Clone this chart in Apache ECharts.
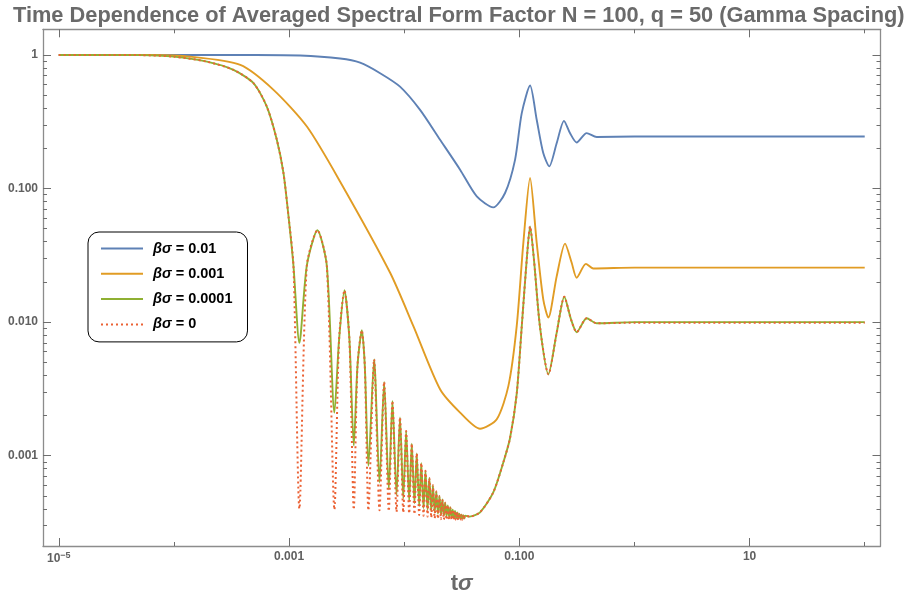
<!DOCTYPE html>
<html><head><meta charset="utf-8">
<script src="https://cdn.jsdelivr.net/npm/echarts@6/dist/echarts.min.js"></script>
<style>html,body{margin:0;padding:0;background:#fff}#c{width:917px;height:600px}</style>
</head><body><div id="c"></div>
<script>
// ---- data (t·σ, averaged spectral form factor) ----
const seriesNames = ['βσ = 0.01', 'βσ = 0.001', 'βσ = 0.0001', 'βσ = 0'];
const seriesColors = ['#5E81B5', '#E19C24', '#8FB032', '#EB6235'];

const blueT = [1e-5, 4.59e-4, 1.247e-3, 2.78e-3, 4.14e-3, 6.18e-3, 9.2e-3, 0.01374, 0.0205, 0.0306, 0.0427, 0.0594, 0.0752, 0.0918, 0.105, 0.124, 0.1416, 0.1614, 0.182, 0.2113, 0.2443, 0.2754, 0.3148, 0.3846, 0.47, 1, 100];
const blueY = [1, 0.998, 0.99, 0.94, 0.875, 0.73, 0.579, 0.388, 0.232, 0.1384, 0.0873, 0.0723, 0.0926, 0.164, 0.367, 0.59, 0.327, 0.1844, 0.1466, 0.219, 0.321, 0.26, 0.221, 0.26, 0.243, 0.245, 0.245];

const orangeT = [1e-5, 6.22e-5, 1.384e-4, 3.77e-4, 7.33e-4, 1.429e-3, 2.78e-3, 7.55e-3, 0.01202, 0.0205, 0.0306, 0.0456, 0.0637, 0.0804, 0.0949, 0.1084, 0.124, 0.1416, 0.1614, 0.1786, 0.2113, 0.2495, 0.285, 0.3148, 0.379, 0.4385, 1, 100];
const orangeY = [1, 0.998, 0.971, 0.842, 0.548, 0.291, 0.1125, 0.0234, 9.33e-3, 3.14e-3, 2.10e-3, 1.59e-3, 1.875e-3, 3.33e-3, 9.33e-3, 0.0392, 0.12, 0.0392, 0.0148, 0.0108, 0.0221, 0.0387, 0.0278, 0.0215, 0.0273, 0.0252, 0.0256, 0.0256];

const greenT = [1e-5, 2.29e-5, 5.1e-5, 9.92e-5, 1.934e-4, 3.29e-4, 4.91e-4, 6.41e-4, 7.83e-4, 8.94e-4, 9.88e-4, 1.092e-3,
  1.23e-3, 1.427e-3, 1.764e-3, 2.128e-3, 2.478e-3, 2.72e-3, 3.03e-3, 3.345e-3, 3.65e-3, 3.93e-3, 4.285e-3, 4.55e-3, 4.89e-3,
  5.48e-3, 6.1e-3, 6.7e-3, 7.35e-3, 7.91e-3, 8.58e-3, 9.2e-3, 9.82e-3, 0.0104, 0.01105, 0.01164, 0.01228, 0.01285, 0.0135,
  0.01408, 0.01473, 0.01531, 0.01596, 0.01654, 0.01719, 0.01777, 0.01842, 0.01901, 0.01965, 0.02024, 0.02088, 0.02147,
  0.02211, 0.0227, 0.02334, 0.02393, 0.02457, 0.02516, 0.0258, 0.0264, 0.02703, 0.02763, 0.02826, 0.02886, 0.02949,
  0.03009, 0.03072, 0.03132, 0.03195, 0.03256, 0.03318, 0.03379, 0.037, 0.0456, 0.0594, 0.0726, 0.083, 0.0949, 0.105,
  0.116, 0.124, 0.134, 0.151, 0.179, 0.211, 0.246, 0.281, 0.315, 0.385, 0.47, 1, 100];
const greenY = [1, 1, 0.997, 0.971, 0.891, 0.773, 0.615, 0.411, 0.232, 0.131, 0.0626, 0.0265,
  0.0070, 0.0265, 0.0487, 0.0265, 0.0021, 0.0074, 0.0173, 0.0074, 0.00119, 0.0047, 0.0087, 0.0047, 8.4e-4,
  0.00526, 6.3e-4, 0.00356, 5.6e-4, 0.00257, 5.1e-4, 0.00193, 4.8e-4, 0.00153, 4.6e-4, 0.00123, 4.4e-4, 0.00104, 4.2e-4,
  8.8e-4, 4.05e-4, 7.7e-4, 3.95e-4, 6.8e-4, 3.85e-4, 6.0e-4, 3.75e-4, 5.4e-4, 3.68e-4, 5.0e-4, 3.62e-4, 4.7e-4,
  3.57e-4, 4.45e-4, 3.52e-4, 4.25e-4, 3.48e-4, 4.1e-4, 3.45e-4, 3.95e-4, 3.42e-4, 3.85e-4, 3.4e-4, 3.76e-4, 3.39e-4,
  3.68e-4, 3.38e-4, 3.62e-4, 3.38e-4, 3.58e-4, 3.39e-4, 3.56e-4, 3.5e-4, 3.77e-4, 5.31e-4, 8.9e-4, 1.35e-3, 2.9e-3, 9.3e-3,
  0.0294, 0.052, 0.0294, 9.3e-3, 4.07e-3, 8.3e-3, 0.0155, 0.0105, 8.4e-3, 0.0107, 9.8e-3, 0.01, 0.01];

const redT = greenT;
const redY = [1, 1, 0.997, 0.971, 0.891, 0.773, 0.615, 0.411, 0.232, 0.131, 0.0626, 0.0265,
  4.0e-4, 0.0265, 0.0487, 0.0265, 3.95e-4, 0.0074, 0.0173, 0.0074, 3.95e-4, 0.0047, 0.0087, 0.0047, 3.9e-4,
  0.00526, 3.9e-4, 0.00356, 3.85e-4, 0.00257, 3.8e-4, 0.00193, 3.75e-4, 0.00153, 3.7e-4, 0.00123, 3.65e-4, 0.00104, 3.6e-4,
  8.8e-4, 3.55e-4, 7.7e-4, 3.5e-4, 6.8e-4, 3.45e-4, 6.0e-4, 3.4e-4, 5.4e-4, 3.37e-4, 5.0e-4, 3.35e-4, 4.7e-4,
  3.33e-4, 4.45e-4, 3.32e-4, 4.25e-4, 3.31e-4, 4.1e-4, 3.3e-4, 3.95e-4, 3.3e-4, 3.85e-4, 3.3e-4, 3.76e-4, 3.3e-4,
  3.68e-4, 3.31e-4, 3.62e-4, 3.32e-4, 3.58e-4, 3.34e-4, 3.56e-4, 3.5e-4, 3.77e-4, 5.31e-4, 8.9e-4, 1.35e-3, 2.9e-3, 9.3e-3,
  0.0294, 0.052, 0.0294, 9.3e-3, 4.07e-3, 8.3e-3, 0.0155, 0.0105, 8.4e-3, 0.0107, 9.8e-3, 0.0099, 0.0099];

// ---- axes (log10 space) ----
const xTickValues = [1e-5, 1e-3, 0.1, 10];
const xTickLabels = ['10{sup|−5}', '0.001', '0.100', '10'];
const xMinorValues = [1e-4, 1e-2, 1, 100];
const yTickValues = [1, 0.1, 0.01, 0.001];
const yTickLabels = ['1', '0.100', '0.010', '0.001'];
const X_MIN = -5.137, X_MAX = 2.137, Y_MIN = -3.676, Y_MAX = 0.192;

const L = Math.log10;
const xMajor = xTickValues.map(L), xMinor = xMinorValues.map(L), yMajor = yTickValues.map(L);
const yMinor = [];
for (let n = -4; n <= 0; n++) for (let m = 2; m <= 9; m++) { const v = L(m) + n; if (v > Y_MIN && v < Y_MAX) yMinor.push(v); }
const pts = (T, Y) => T.map((t, i) => [L(t), L(Y[i])]);
const lab = (vals, labels) => v => { const i = vals.findIndex(a => Math.abs(a - v) < 1e-6); return i < 0 ? '' : labels[i]; };

const FONT = 'Liberation Sans';
const AX = '#8c8c8c', TK = '#6e6e6e', TX = '#606060';
const labStyle = { fontFamily: FONT, fontSize: 12, fontWeight: 'bold', color: TX };

function xAx(pos, vals, len, labels, showLine) {
  const o = { type: 'value', min: X_MIN, max: X_MAX, position: pos, splitLine: { show: false },
    axisLine: { show: showLine, onZero: false, lineStyle: { color: AX, width: 1.3 } },
    axisTick: { show: true, inside: true, length: len, customValues: vals, lineStyle: { color: TK, width: 1 } },
    axisLabel: { show: false } };
  if (labels) {
    o.axisLabel = Object.assign({ show: true, customValues: vals, margin: 5, formatter: lab(xMajor, xTickLabels),
      rich: { sup: { fontFamily: FONT, fontSize: 9, fontWeight: 'bold', color: TX, padding: [0, 0, 7, 0] } } }, labStyle);
    o.name = '{t|t}{s|σ}'; o.nameLocation = 'middle'; o.nameGap = 27;
    o.nameTextStyle = { rich: { t: { fontFamily: FONT, fontSize: 22, fontWeight: 'bold', color: '#6a6a6a' },
      s: { fontFamily: FONT, fontSize: 22, fontWeight: 'bold', fontStyle: 'italic', color: '#6a6a6a' } } };
  }
  return o;
}
function yAx(pos, vals, len, labels, showLine) {
  const o = { type: 'value', min: Y_MIN, max: Y_MAX, position: pos, splitLine: { show: false },
    axisLine: { show: showLine, onZero: false, lineStyle: { color: AX, width: 1.3 } },
    axisTick: { show: true, inside: true, length: len, customValues: vals, lineStyle: { color: TK, width: 1 } },
    axisLabel: { show: false } };
  if (labels) o.axisLabel = Object.assign({ show: true, customValues: vals, margin: 5, formatter: lab(yMajor, yTickLabels) }, labStyle);
  return o;
}

const data = [pts(blueT, blueY), pts(orangeT, orangeY), pts(greenT, greenY), pts(redT, redY)];
const chart = echarts.init(document.getElementById('c'), null, { renderer: 'canvas' });
chart.setOption({
  animation: false,
  backgroundColor: '#fff',
  title: { text: 'Time Dependence of Averaged Spectral Form Factor N = 100, q = 50 (Gamma Spacing)', left: 8, top: 0,
    textStyle: { fontFamily: FONT, fontSize: 21.8, fontWeight: 'bold', color: '#6a6a6a' } },
  grid: { left: 43, right: 36.5, top: 29.3, bottom: 53, containLabel: false },
  xAxis: [xAx('bottom', xMajor, 8, true, true), xAx('bottom', xMinor, 4, false, false), xAx('top', xMajor, 8, false, true), xAx('top', xMinor, 4, false, false)],
  yAxis: [yAx('left', yMajor, 8, true, true), yAx('left', yMinor, 4, false, false), yAx('right', yMajor, 8, false, true), yAx('right', yMinor, 4, false, false)],
  legend: { orient: 'vertical', left: 88, top: 232, padding: [9, 15, 10, 12], itemWidth: 42, itemHeight: 14, itemGap: 10.3,
    borderColor: '#000', borderWidth: 1, borderRadius: 11, backgroundColor: '#fff',
    itemStyle: { opacity: 0 },
    data: seriesNames,
    formatter: n => '{i|βσ}{n|' + n.slice(2) + '}',
    textStyle: { padding: [0, 0, 0, 5], rich: {
      i: { fontFamily: FONT, fontSize: 14.5, lineHeight: 14, fontWeight: 'bold', fontStyle: 'italic', color: '#000' },
      n: { fontFamily: FONT, fontSize: 14.5, lineHeight: 14, fontWeight: 'bold', color: '#000' } } } },
  series: seriesNames.map((name, i) => ({
    name, type: 'line', data: data[i], xAxisIndex: 0, yAxisIndex: 0,
    symbol: 'none', showSymbol: false, smooth: 0.25, clip: true,
    color: seriesColors[i],
    lineStyle: { color: seriesColors[i], width: i === 3 ? 2 : 1.9, type: i === 3 ? [2, 3] : 'solid' },
    emphasis: { disabled: true }, z: 2 + i
  }))
});
</script></body></html>
